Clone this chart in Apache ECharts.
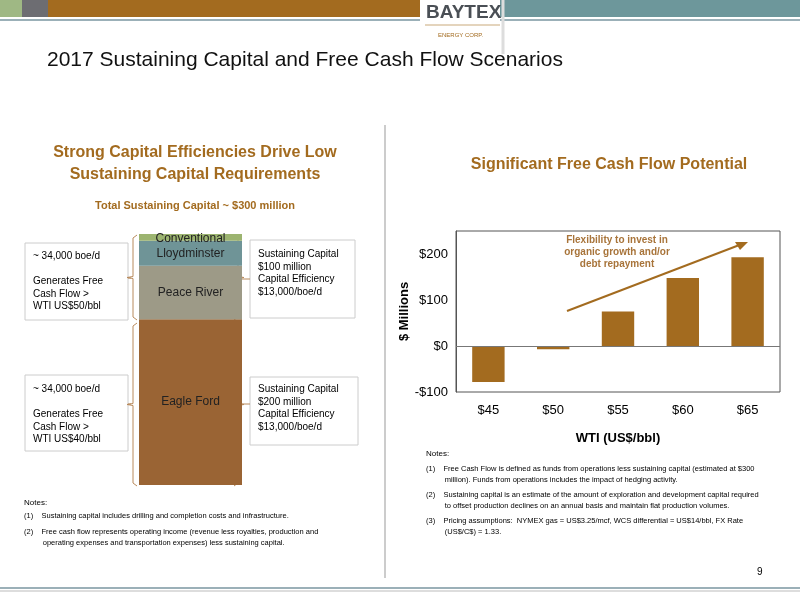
<!DOCTYPE html>
<html><head><meta charset="utf-8">
<script src="https://cdn.jsdelivr.net/npm/echarts@6/dist/echarts.min.js"></script>
<style>html,body{margin:0;padding:0;background:#fff}#c{width:800px;height:600px}</style>
</head><body><div id="c"></div>
<script>
const segments = ['Eagle Ford','Peace River','Lloydminster','Conventional'];
const segmentValues = [198, 64, 30, 8];
const segmentColors = ['#9a6434','#9d9a87','#6f9497','#9cb470'];
const wtiCategories = ['$45','$50','$55','$60','$65'];
const fcfValues = [-78, -7, 75, 148, 193];
const yTicks = [-100, 0, 100, 200];

const chart = echarts.init(document.getElementById('c'));
const F = 'Liberation Sans, Arial, sans-serif';
const brown = '#a36b1f';
function txt(x,y,t,o){return {type:'text',x:x,y:y,style:Object.assign({text:t,fill:'#000',font:'10px '+F},o||{})};}
function rect(x,y,w,h,fill,stroke){return {type:'rect',shape:{x:x,y:y,width:w,height:h},style:{fill:fill,stroke:stroke||null,lineWidth:1}};}
function bracket(x,y1,y2,dir){const d=dir*4;return {type:'polyline',shape:{points:[[x+d,y1],[x,y1+3],[x,(y1+y2)/2-1],[x-d*1.5,(y1+y2)/2],[x,(y1+y2)/2+1],[x,y2-3],[x+d,y2]]},style:{stroke:'#b88a5c',fill:null,lineWidth:1}};}

const leftSeries = segments.map((s,i)=>({
  name:s,type:'bar',stack:'a',xAxisIndex:0,yAxisIndex:0,barWidth:'100%',
  data:[segmentValues[i]],itemStyle:{color:segmentColors[i]},
  label:{show:true,position:i===3?'insideBottom':'inside',formatter:s,color:'#222',fontSize:12,fontFamily:F,distance:-4}
}));

chart.setOption({
  animation:false,
  grid:[{left:139,width:103,top:234,height:251},{left:456,right:20,top:231,bottom:208,show:true,borderColor:'#555',borderWidth:1}],
  xAxis:[{type:'category',gridIndex:0,data:['x'],show:false},
    {type:'category',gridIndex:1,data:wtiCategories,axisLine:{show:false,onZero:false},axisTick:{show:false},
     axisLabel:{color:'#000',fontSize:13,fontFamily:F,margin:12},
     name:'WTI (US$/bbl)',nameLocation:'middle',nameGap:40,nameTextStyle:{color:'#000',fontSize:13,fontWeight:'bold',fontFamily:F}}],
  yAxis:[{type:'value',gridIndex:0,min:0,max:300,show:false},
    {type:'value',gridIndex:1,min:-100,max:250,interval:100,splitLine:{show:false},axisLine:{show:true,lineStyle:{color:'#555'}},axisTick:{show:false},
     axisLabel:{color:'#000',fontSize:13,fontFamily:F,formatter:v=>yTicks.indexOf(v)<0?'':(v<0?'-$'+(-v):'$'+v)},
     name:'$ Millions',nameLocation:'middle',nameGap:44,nameTextStyle:{color:'#000',fontSize:13,fontWeight:'bold',fontFamily:F}}],
  series:leftSeries.concat([{type:'bar',xAxisIndex:1,yAxisIndex:1,data:fcfValues,barWidth:'50%',itemStyle:{color:brown},
    markLine:{silent:true,symbol:'none',label:{show:false},lineStyle:{color:'#777',type:'solid',width:1},data:[{yAxis:0}]}}]),
  graphic:[
    rect(0,0,22,17,'#9fb884'),rect(22,0,26,17,'#6d6d72'),rect(48,0,372,17,brown),rect(500,0,300,17,'#6d979b'),
    {type:'line',shape:{x1:0,y1:20,x2:420,y2:20},style:{stroke:'#7a96a0',lineWidth:1.5}},
    {type:'line',shape:{x1:500,y1:20,x2:800,y2:20},style:{stroke:'#7a96a0',lineWidth:1.5}},
    rect(420,0,80,52,'#fff'),
    {type:'line',shape:{x1:503,y1:0,x2:503,y2:54},style:{stroke:'#ddd',lineWidth:3}},
    txt(426,3,'BAYTEX',{font:'bold 19px '+F,fill:'#4a4f55'}),
    {type:'line',shape:{x1:425,y1:25,x2:500,y2:25},style:{stroke:'#c9a97a',lineWidth:1}},
    txt(438,32,'ENERGY CORP.',{font:'6px '+F,fill:'#a36b1f'}),
    txt(47,50,'2017 Sustaining Capital and Free Cash Flow Scenarios',{font:'21px '+F,fill:'#111'}),
    {type:'line',shape:{x1:385,y1:125,x2:385,y2:578},style:{stroke:'#999',lineWidth:1}},
    {type:'line',shape:{x1:0,y1:588,x2:800,y2:588},style:{stroke:'#7a96a0',lineWidth:1.5}},
    {type:'line',shape:{x1:0,y1:591,x2:800,y2:591},style:{stroke:'#bbb',lineWidth:1}},
    txt(195,142,'Strong Capital Efficiencies Drive Low\nSustaining Capital Requirements',{font:'bold 16px '+F,fill:brown,align:'center',lineHeight:22}),
    txt(195,200,'Total Sustaining Capital ~ $300 million',{font:'bold 11px '+F,fill:brown,align:'center'}),
    txt(609,157,'Significant Free Cash Flow Potential',{font:'bold 16px '+F,fill:brown,align:'center'}),
    rect(25,243,103,77,'#fff','#ccc'),txt(33,250,'~ 34,000 boe/d\n\nGenerates Free\nCash Flow >\nWTI US$50/bbl',{lineHeight:12.5}),
    rect(25,375,103,76,'#fff','#ccc'),txt(33,383,'~ 34,000 boe/d\n\nGenerates Free\nCash Flow >\nWTI US$40/bbl',{lineHeight:12.5}),
    rect(250,240,105,78,'#fff','#ccc'),txt(258,248,'Sustaining Capital\n$100 million\nCapital Efficiency\n$13,000/boe/d',{lineHeight:12.5}),
    rect(250,377,108,68,'#fff','#ccc'),txt(258,383,'Sustaining Capital\n$200 million\nCapital Efficiency\n$13,000/boe/d',{lineHeight:12.5}),
    bracket(133,235,320,1),bracket(133,323,486,1),bracket(238,235,320,-1),bracket(238,323,486,-1),
    {type:'line',shape:{x1:128,y1:278,x2:131,y2:278},style:{stroke:'#b88a5c'}},
    {type:'line',shape:{x1:128,y1:404,x2:131,y2:404},style:{stroke:'#b88a5c'}},
    {type:'line',shape:{x1:241,y1:279,x2:250,y2:279},style:{stroke:'#b88a5c'}},
    {type:'line',shape:{x1:241,y1:404,x2:250,y2:404},style:{stroke:'#b88a5c'}},
    txt(617,234,'Flexibility to invest in\norganic growth and/or\ndebt repayment',{font:'bold 10px '+F,fill:'#a8743a',align:'center',lineHeight:12}),
    {type:'line',shape:{x1:567,y1:311,x2:742,y2:244},style:{stroke:brown,lineWidth:2}},
    {type:'polygon',shape:{points:[[748,242],[735,242],[740,250]]},style:{fill:brown}},
    txt(24,499,'Notes:',{font:'8px '+F}),
    txt(24,512,'(1)    Sustaining capital includes drilling and completion costs and infrastructure.',{font:'7.5px '+F}),
    txt(24,526,'(2)    Free cash flow represents operating income (revenue less royalties, production and\n         operating expenses and transportation expenses) less sustaining capital.',{font:'7.5px '+F,lineHeight:11}),
    txt(426,450,'Notes:',{font:'8px '+F}),
    txt(426,463,'(1)    Free Cash Flow is defined as funds from operations less sustaining capital (estimated at $300\n         million). Funds from operations includes the impact of hedging activity.',{font:'7.5px '+F,lineHeight:11}),
    txt(426,489,'(2)    Sustaining capital is an estimate of the amount of exploration and development capital required\n         to offset production declines on an annual basis and maintain flat production volumes.',{font:'7.5px '+F,lineHeight:11}),
    txt(426,515,'(3)    Pricing assumptions:  NYMEX gas = US$3.25/mcf, WCS differential = US$14/bbl, FX Rate\n         (US$/C$) = 1.33.',{font:'7.5px '+F,lineHeight:11}),
    txt(757,567,'9',{font:'10px '+F})
  ]
});
</script></body></html>
